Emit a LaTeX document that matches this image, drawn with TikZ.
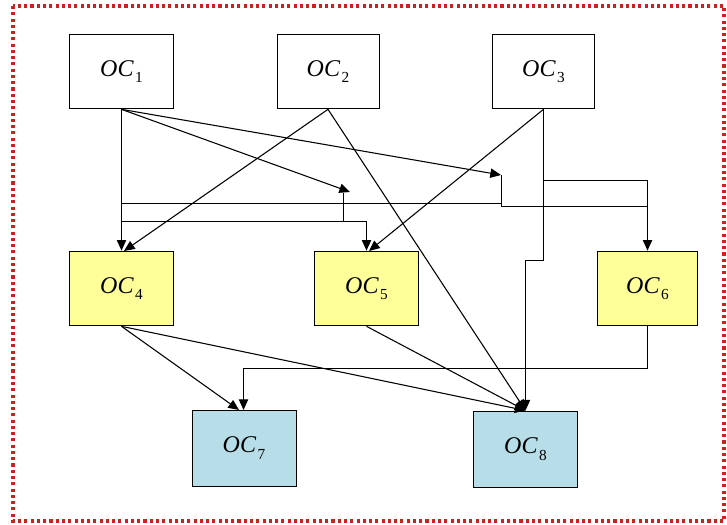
\documentclass[tikz,border=0pt]{standalone}
\usepackage{fontspec}
\setmainfont{Liberation Serif}
\usetikzlibrary{arrows.meta}
\definecolor{boxyellow}{RGB}{255,255,153}
\definecolor{boxteal}{RGB}{183,222,232}
\definecolor{borderred}{RGB}{210,30,30}
\newcommand\ocl[1]{\textit{OC}\kern1pt\raisebox{-0.27em}{\fontsize{11.5}{11.5}\selectfont #1}}
\tikzset{
  ocbox/.style={draw, line width=0.75pt, minimum width=78pt, minimum height=56pt, inner sep=0pt, font=\fontsize{18}{20}\selectfont},
  whitebox/.style={ocbox, fill=white},
  yellowbox/.style={ocbox, fill=boxyellow},
  tealbox/.style={ocbox, fill=boxteal},
  link/.style={line width=0.8pt},
  arr/.style={link, -{Triangle[length=8pt,width=7pt]}},
  frame/.style={draw=borderred, line width=2.3pt, dash pattern=on 2.3pt off 2.4pt}
}
\begin{document}
\begin{tikzpicture}[x=0.75pt,y=-0.75pt]
\useasboundingbox (0,0) rectangle (727,524);
\draw[frame] (13,6) rectangle (724,521);

\node[whitebox] (oc1) at (121.5,71.5) {\ocl{1}};
\node[whitebox, minimum width=76.5pt] (oc2) at (328,71.5) {\ocl{2}};
\node[whitebox, minimum width=77pt] (oc3) at (543.5,71.5) {\ocl{3}};
\node[yellowbox, minimum width=78.5pt] (oc4) at (121.5,288.5) {\ocl{4}};
\node[yellowbox, minimum width=78pt] (oc5) at (366.5,288.5) {\ocl{5}};
\node[yellowbox, minimum width=75pt] (oc6) at (647.5,288.5) {\ocl{6}};
\node[tealbox, minimum height=57pt] (oc7) at (244,448) {\ocl{7}};
\node[tealbox, minimum height=57pt] (oc8) at (525.5,449) {\ocl{8}};

% helper coordinates
\coordinate (t1) at (350,192);
\coordinate (t2) at (501,175);
\coordinate (j1a) at (343.5,193);
\coordinate (j1b) at (343.5,221.5);
\coordinate (h1l) at (121.5,221.5);
\coordinate (h1r) at (366.5,221.5);
\coordinate (h2l) at (121.5,203.5);
\coordinate (h2r) at (501.5,203.5);
\coordinate (v2t) at (501.5,175);
\coordinate (v2b) at (501.5,206.5);
\coordinate (r6) at (647.5,206.5);
\coordinate (b3) at (543.5,180.5);
\coordinate (b6) at (647.5,180.5);
\coordinate (d3a) at (543.5,260.5);
\coordinate (d3b) at (525.5,260.5);
\coordinate (c6a) at (647.5,368.5);
\coordinate (c7a) at (243.5,368.5);
\coordinate (in4) at (124,251);
\coordinate (in5) at (369,251);
\coordinate (in7) at (239,410);
\coordinate (in7b) at (243.5,410);
\coordinate (in8) at (525.5,410.5);

% from OC1
\draw[arr] (oc1.south) -- (oc4.north);
\draw[arr] (oc1.south) -- (t1);
\draw[arr] (oc1.south) -- (t2);
\draw[link] (j1a) -- (j1b);
\draw[arr] (h1l) -- (h1r) -- (oc5.north);
\draw[link] (h2l) -- (h2r);
\draw[link] (v2t) -- (v2b) -- (r6);
\draw[arr] (r6) -- (oc6.north);

% from OC2
\draw[arr] (oc2.south) -- (in4);
\draw[arr] (oc2.south) -- (in8);

% from OC3
\draw[arr] (oc3.south) -- (in5);
\draw[link] (oc3.south) -- (b3) -- (b6) -- (r6);
\draw[arr] (oc3.south) -- (d3a) -- (d3b) -- (in8);

% from the middle row
\draw[arr] (oc4.south) -- (in7);
\draw[arr] (oc4.south) -- (in8);
\draw[arr] (oc5.south) -- (in8);
\draw[arr] (oc6.south) -- (c6a) -- (c7a) -- (in7b);
\end{tikzpicture}
\end{document}
